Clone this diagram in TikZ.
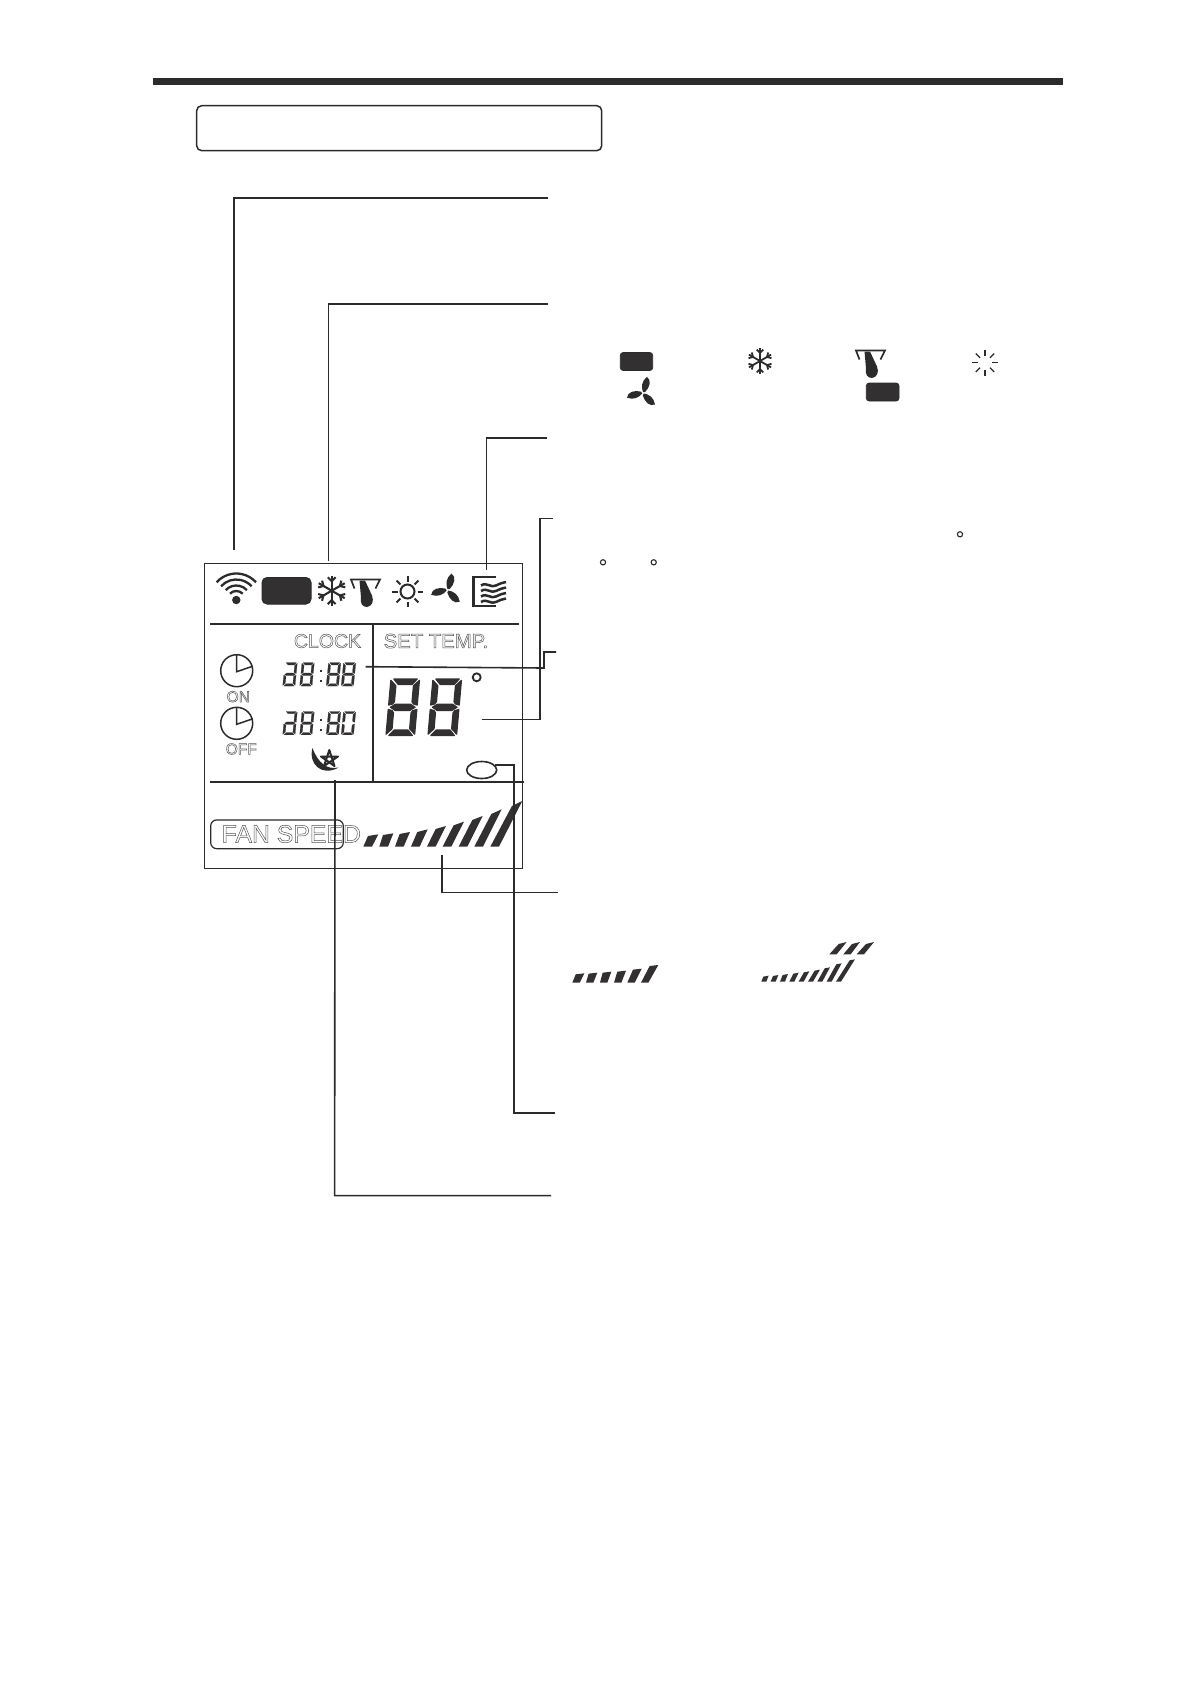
\documentclass[tikz,border=0pt]{standalone}
\usepackage{fontspec}
\usetikzlibrary{shapes.geometric}
\setmainfont{Liberation Sans}
\definecolor{ink}{HTML}{2B2B2B}
\definecolor{lcd}{HTML}{333031}
\definecolor{hollow}{HTML}{555555}
\newcommand{\hollowtext}[1]{\special{pdf:code 1 Tr 0.5 w}#1\special{pdf:code 0 Tr}}
\tikzset{segment/.style={fill=lcd,draw=lcd,line width=0.2pt,line join=round}}
% seven-segment digit: origin (top-left), width, height, slant, segments
\newcommand{\segA}{\path[segment] (.10,0)--(.92,0)--(.76,.095)--(.27,.095)--cycle;}
\newcommand{\segB}{\path[segment] (1,.025)--(1,.46)--(.86,.44)--(.81,.40)--(.81,.12)--cycle;}
\newcommand{\segC}{\path[segment] (1,.54)--(1,.975)--(.81,.88)--(.81,.60)--(.86,.56)--cycle;}
\newcommand{\segD}{\path[segment] (.10,1)--(.92,1)--(.76,.905)--(.27,.905)--cycle;}
\newcommand{\segE}{\path[segment] (0,.54)--(0,.975)--(.19,.88)--(.19,.60)--(.14,.56)--cycle;}
\newcommand{\segF}{\path[segment] (0,.025)--(0,.46)--(.14,.44)--(.19,.40)--(.19,.12)--cycle;}
\newcommand{\segG}{\path[segment] (.07,.5)--(.24,.445)--(.76,.445)--(.93,.5)--(.76,.555)--(.24,.555)--cycle;}
\newcommand{\lcdigit}[6]{\begin{scope}[shift={(#1,#2)},x={(#3pt,0pt)},y={(-#5pt,-#4pt)}]#6\end{scope}}
\newcommand{\eight}{\segA\segB\segC\segD\segE\segF\segG}
\newcommand{\zero}{\segA\segB\segC\segD\segE\segF}
\newcommand{\ayy}{\segA\segB\segC\segD\segE\segG}
\newcommand{\snowicon}[3]{\begin{scope}[shift={(#1,#2)},scale=#3,line width=2.1pt*#3,draw=ink]
 \foreach \a in {90,30,150}{\draw (\a:15pt)--(\a+180:15pt);}
 \foreach \a in {30,90,150,210,270,330}{\draw (\a:9.5pt)++(\a+45:5.5pt)--(\a:9.5pt)--++(\a-45:5.5pt);}
 \end{scope}}
\newcommand{\dropicon}[3]{\begin{scope}[shift={(#1,#2)},scale=#3]
 \draw[line width=1.7pt*#3,ink] (-11,9)--(-14.5,0)--(14.5,0)--(10,9);
 \fill[ink] (-6,1)--(-0.5,1)--(6.5,16) .. controls (9,22) and (6,27) .. (1.5,27.5) .. controls (-3,27.5) and (-5.5,24) .. (-4.5,18)--cycle;
 \end{scope}}
\newcommand{\fanicon}[3]{\begin{scope}[shift={(#1,#2)},scale=#3]
 \foreach \a in {0,120,240}{\fill[ink,rotate=\a] (0,-1) .. controls (-2,-6) and (-1.5,-12) .. (4,-16.5) .. controls (9,-13) and (7,-6) .. (2.2,-1)--cycle;}
 \end{scope}}
\newcommand{\cmark}[2]{\draw[line width=1.1pt,ink] (#1,#2) circle[radius=2.6pt];}
\newcommand{\clockicon}[2]{\begin{scope}[shift={(#1,#2)}]
 \draw[line width=1.5pt,ink] (0,0) circle[radius=16pt];
 \draw[line width=1.5pt,ink] (0,-16)--(0,1)--(16,-4.5);
 \end{scope}}
\tikzset{
 lead/.style={line width=1.6pt,draw=ink},
 frame/.style={line width=1.5pt,draw=ink},
 rule/.style={line width=2pt,draw=ink},
 bar/.style={fill=lcd},
 lcdlabel/.style={inner sep=0pt,text=hollow,font=\fontsize{19.5}{20}\selectfont},
 smalllabel/.style={inner sep=0pt,text=hollow,font=\fontsize{15.5}{16}\selectfont},
}
\begin{document}
\begin{tikzpicture}[x=1pt,y=-1pt]
\useasboundingbox (0,0) rectangle (1191,1684);
\fill[white] (0,0) rectangle (1191,1684);
% top rule and title frame
\fill[ink] (153,78) rectangle (1063,85);
\draw[frame,rounded corners=5pt] (196.7,105.7) rectangle (601.7,150.7);
% display
\draw[frame] (204.7,563.7) rectangle (522.3,868.7);
\draw[rule] (210,623.7)--(518.7,623.7);
\draw[rule] (373,623.7)--(373,781.7);
\draw[rule] (210,781.7)--(524,781.7);
% wifi
\coordinate (wifi) at (236.3,600);
\fill[ink] (wifi) circle[radius=4.2pt];
\foreach \r/\s in {26.5/48,20.5/48,14.5/47,9/45}{\draw[line width=2.3pt,ink] (wifi) ++(90+\s:\r pt) arc[start angle=90+\s,end angle=90-\s,radius=\r pt];}
% mode block
\fill[lcd,draw=ink,line width=1pt,rounded corners=5pt] (262,577.5) rectangle (311,604);
\snowicon{331.7}{590.7}{1}
\dropicon{365.5}{579.5}{1}
\begin{scope}[shift={(407.5,591.5)}]
 \draw[line width=2pt,ink] (0,0) circle[radius=7pt];
 \foreach \a in {0,45,...,315}{\draw[line width=2pt,ink] (\a:10pt)--(\a:15.5pt);}
\end{scope}
\fanicon{447.5}{590}{1}
% heat/wave icon
\draw[line width=2.3pt,ink] (496,576.7)--(473.5,576.7)--(473.5,605.7)--(496,605.7);
\foreach \y in {585.5,591,596.5,602}{\draw[line width=2.5pt,ink] (481,\y) .. controls (487,\y-4) and (491,\y+3) .. (496,\y) .. controls (500,\y-2) and (503,\y-3) .. (506,\y-3.5);}
% labels
\node[lcdlabel] (clocklab) at (327.5,641) {\hollowtext{CLOCK}};
\node[lcdlabel,font=\fontsize{20.3}{21}\selectfont] (templab) at (436,641) {\hollowtext{SET TEMP.}};
\node[smalllabel] (onlab) at (238.3,696.7) {\hollowtext{ON}};
\node[smalllabel] (offlab) at (241.3,749) {\hollowtext{OFF}};
\clockicon{236.7}{670.7}
\clockicon{236.7}{723.3}
% clock digits
\lcdigit{285}{662.7}{12.3}{23.3}{2.3}{\ayy}
\lcdigit{302}{662.7}{12.3}{23.3}{2.3}{\eight}
\lcdigit{328.5}{662.7}{12.3}{23.3}{2.3}{\eight}
\lcdigit{343.5}{662.7}{12.3}{23.3}{2.3}{\eight}
\lcdigit{285}{711.5}{12.3}{23.3}{2.3}{\ayy}
\lcdigit{302}{711.5}{12.3}{23.3}{2.3}{\eight}
\lcdigit{328.5}{711.5}{12.3}{23.3}{2.3}{\eight}
\lcdigit{343.5}{711.5}{12.3}{23.3}{2.3}{\zero}
\foreach \y in {669.5,679.5,718.5,728.5}{\fill[lcd] (319.5,\y) rectangle ++(2.4,2.4);}
% big digits
\begin{scope}[segment/.append style={line width=1.3pt}]
\lcdigit{391}{679}{28.5}{56.5}{5}{\eight}
\lcdigit{433}{679}{28.5}{56.5}{5}{\eight}
\end{scope}
\draw[line width=1.8pt,ink] (476.7,677.3) circle[radius=4pt];
% moon and star
\fill[ink] (312.5,748) .. controls (308,764) and (322,777) .. (338.5,767.5) .. controls (327,770) and (318,763) .. cycle;
\draw[line width=2pt,ink,line join=round] (329.3,750)--(334.5,766)--(321,756.5)--(338,756.5)--(324,766)--cycle;
% ellipse
\node[draw=ink,line width=1.6pt,ellipse,minimum width=30pt,minimum height=17pt,inner sep=0pt] (pill) at (481.7,770) {};
% fan speed
\node[draw=ink,line width=1.2pt,rounded corners=6pt,minimum width=132.6pt,minimum height=28.7pt,inner sep=0pt] (fanbox) at (277,834.3) {};
\node[inner sep=0pt,text=hollow,font=\fontsize{24.8}{25}\selectfont] (fanlab) at (291.3,834) {\hollowtext{FAN SPEED}};
\begin{scope}[shift={(190,740)},x=.3333pt,y=-.3333pt]
 \foreach \bl/\tr/\yr/\yl in {520/565/283/288,568/610/280/285,615/660/276/282,663/713/268/276,711/768/258/267,758/822/245/256,806/878/228/240,853/935/208/222,901/997/183/198}{
 \fill[bar] (\bl,320)--(\bl+26,320)--(\tr,\yr)--(\tr-31,\yl)--cycle;}
\end{scope}
% icons in the right column
\fill[lcd,draw=ink,line width=.8pt,rounded corners=3pt] (620.3,352.5) rectangle (652.7,370.5);
\fill[lcd,draw=ink,line width=.8pt,rounded corners=3pt] (866.3,383) rectangle (899,401);
\snowicon{760}{361}{.85}
\dropicon{870.5}{350.5}{1}
\begin{scope}[shift={(985,362.7)}]
 \foreach \a in {0,45,...,315}{\draw[line width=1.3pt,ink] (\a:7pt)--(\a:13pt);}
\end{scope}
\fanicon{643}{393}{.98}
\cmark{960}{534.3}
\cmark{603}{562.3}
\cmark{653.7}{562.3}
\begin{scope}[shift={(540,920)},x=.3333pt,y=-.3333pt]
 \foreach \bl/\tr/\yt in {97/133/160,138/172/158,180/214/155,222/258/152,262/305/146,303/355/135}{
 \fill[bar] (\bl,188)--(\bl+22,188)--(\tr,\yt)--(\tr-26,\yt+3)--cycle;}
 \foreach \bl/\tr/\yt in {664/686/167,692/715/165,720/744/162,748/776/158,776/808/154,804/840/149,832/870/142,860/905/130,888/945/118}{
 \fill[bar] (\bl,185)--(\bl+15,185)--(\tr,\yt)--(\tr-16,\yt+3)--cycle;}
 \foreach \bl/\tr in {868/920,910/960,950/1002}{
 \fill[bar] (\bl,103)--(\bl+22,103)--(\tr,66)--(\tr-24,72)--cycle;}
\end{scope}
% connector ends
\coordinate (w0) at (234,550);      \coordinate (w1) at (548,197.7);
\coordinate (m0) at (328.6,561);    \coordinate (m1) at (548,304);
\coordinate (h0) at (486.5,570);    \coordinate (h1) at (547,437.7);
\coordinate (t0) at (481.7,719.3);  \coordinate (t1) at (552.7,518.3);
\coordinate (c0) at (365.7,666.7);  \coordinate (c1) at (556,652);
\coordinate (f0) at (441.7,855);    \coordinate (f1) at (558,892.3);
\coordinate (p1) at (555,1112.7);
\coordinate (s0) at (335,780);      \coordinate (s1) at (551,1195.6);
\draw[lead] (w0)|-(w1);
\draw[lead] (m0)|-(m1);
\draw[lead] (h0)|-(h1);
\draw[lead] (t0)-|(540,518.3)--(t1);
\draw[lead] (c0)--(544,668)|-(c1);
\draw[lead] (f0)|-(f1);
\draw[lead] (pill.20)-|(514,1112.7)--(p1);
\draw[lead] (s0)--(334.6,1195.6)--(s1);
\end{tikzpicture}
\end{document}
